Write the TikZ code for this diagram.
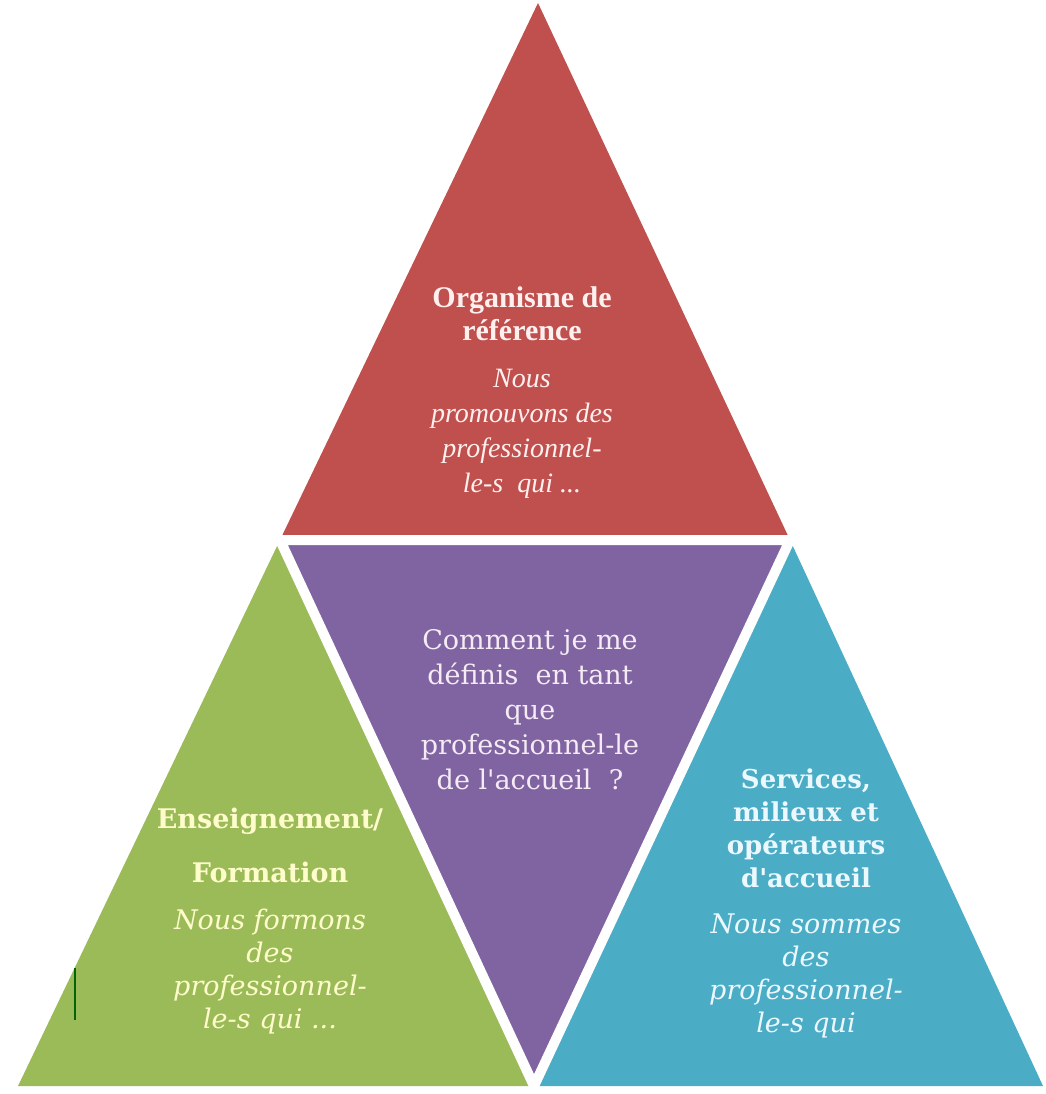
\documentclass[tikz,border=0pt]{standalone}
\usepackage{fontspec}
\setmainfont{Liberation Serif}
\newfontfamily\widefont{DejaVu Serif}
\usetikzlibrary{positioning}
\definecolor{redtri}{HTML}{C0504D}
\definecolor{greentri}{HTML}{9BBB59}
\definecolor{violettri}{HTML}{8064A2}
\definecolor{bluetri}{HTML}{4BACC6}
\tikzstyle{gap} = [draw=white, line width=10pt, line join=miter]
\tikzstyle{title} = [align=center, inner sep=0pt, font=\widefont\fontsize{26}{33}\selectfont\bfseries]
\tikzstyle{body} = [align=center, inner sep=0pt, font=\widefont\fontsize{27}{33}\selectfont\itshape]

\begin{document}
\begin{tikzpicture}[x=1pt,y=-1pt]
\useasboundingbox (0,0) rectangle (1045,1094);
\coordinate (top) at (538,3);
\coordinate (ml) at (280,540);
\coordinate (mr) at (790,540);
\coordinate (bl) at (18,1086);
\coordinate (bm) at (534,1086);
\coordinate (br) at (1043,1086);
% the four triangles
\fill [redtri] (top)--(ml)--(mr)--cycle;
\fill [greentri] (ml)--(bl)--(bm)--cycle;
\fill [violettri] (ml)--(mr)--(bm)--cycle;
\fill [bluetri] (mr)--(bm)--(br)--cycle;
\draw [gap] (ml)--(mr)--(bm)--cycle;
\draw [green!40!black, line width=1.2pt] (75,968)--(75,1020);
%
\node (orgtitle) at (522,314) [title, text=red!6, font=\fontsize{30}{33}\selectfont\bfseries] {Organisme de\\référence};
\node (orgtext) [body, text=red!6, below=28pt of orgtitle, font=\fontsize{28}{35}\selectfont\itshape] {Nous\\promouvons des\\professionnel-\\le-s~~qui ...};
\node (question) at (530,710) [align=center, inner sep=0pt, text=violet!8, font=\widefont\fontsize{27}{35}\selectfont] {Comment je me\\définis~~en tant\\que\\professionnel-le\\de l\textquotesingle accueil~~?};
\node (enstitle) at (270,845) [title, text=yellow!20, font=\widefont\fontsize{27}{54}\selectfont\bfseries] {Enseignement/\\Formation};
\node (enstext) [body, text=yellow!20, below=26pt of enstitle] {Nous formons\\des\\professionnel-\\le-s qui ...};
\node (sertitle) at (806,828) [title, text=cyan!8] {Services,\\milieux et\\opérateurs\\d\textquotesingle accueil};
\node (sertext) [body, text=cyan!8, below=26pt of sertitle] {Nous sommes\\des\\professionnel-\\le-s qui};
\end{tikzpicture}
\end{document}
